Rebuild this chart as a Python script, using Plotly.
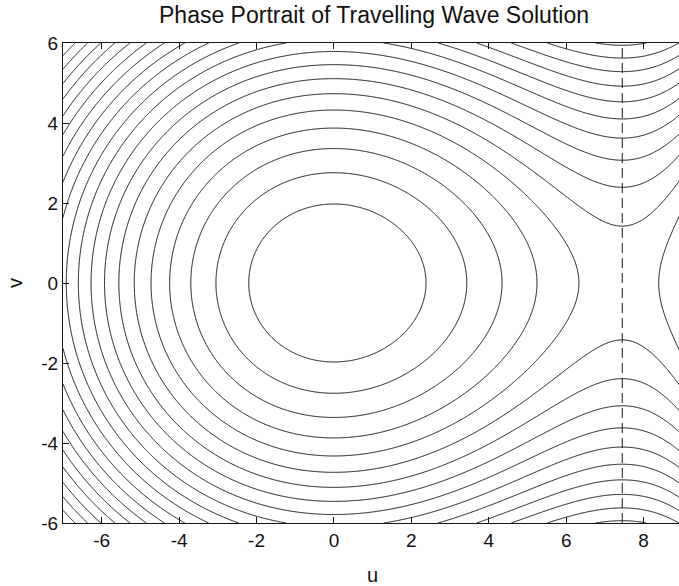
import numpy as np
import plotly.graph_objects as go

# Travelling-wave reduction u'' = -V'(u), v = u'. Orbits are level sets of
# the first integral H(u, v) = v^2 / 2 + V(u), with
# V(u) = u^2 * (STIFFNESS - GAIN * exp(u / SCALE)).
STIFFNESS = 0.445
GAIN = 0.0641
SCALE = 5.3

U_RANGE = [-7.0, 8.915]
V_RANGE = [-6.0, 6.0]

# energy levels of the plotted orbits
LEVELS = [1.95, 3.80, 5.65, 7.50, 9.35, 11.20, 13.05, 14.90, 16.75, 18.60,
          20.45, 22.30, 24.15, 26.00, 27.85, 29.70, 31.55, 33.40, 35.25, 37.10]

X_TICKS = [-6, -4, -2, 0, 2, 4, 6, 8]
X_TICK_TEXT = ["-6", "-4", "-2", "0", "2", "4", "6", "8"]
Y_TICKS = [-6, -4, -2, 0, 2, 4, 6]
Y_TICK_TEXT = ["-6", "-4", "-2", "0", "2", "4", "6"]

TITLE = "Phase Portrait of Travelling Wave Solution"
INK = "#151515"
FONT = "Liberation Sans, Arial, Helvetica, sans-serif"


def potential(u):
    return u ** 2 * (STIFFNESS - GAIN * np.exp(u / SCALE))


u = np.linspace(-7.0, 9.0, 801)
v = np.linspace(V_RANGE[0], V_RANGE[1], 601)
U, V = np.meshgrid(u, v)
H = 0.5 * V ** 2 + potential(U)

# saddle point of the system: local maximum of V on the positive axis
u_pos = np.linspace(1.0, 9.0, 8001)
u_saddle = u_pos[np.argmax(potential(u_pos))]

fig = go.Figure()
fig.add_trace(go.Contour(
    x=u, y=v, z=H,
    autocontour=False,
    contours=dict(coloring="none", start=LEVELS[0], end=LEVELS[-1],
                  size=LEVELS[1] - LEVELS[0], showlabels=False),
    line=dict(color=INK, width=1, smoothing=1),
    showscale=False, hoverinfo="skip",
))
fig.add_trace(go.Scatter(
    x=[u_saddle, u_saddle], y=V_RANGE, mode="lines",
    line=dict(color=INK, width=1, dash="10px,5px"),
    hoverinfo="skip", showlegend=False,
))

axis_common = dict(
    ticks="inside", ticklen=6, tickwidth=1, tickcolor=INK,
    showline=True, linecolor=INK, linewidth=1,
    showgrid=False, zeroline=False,
    tickfont=dict(family=FONT, size=19, color="#111"),
)
fig.update_xaxes(range=U_RANGE, tickvals=X_TICKS, ticktext=X_TICK_TEXT,
                 mirror="ticks", **axis_common)
fig.update_yaxes(range=V_RANGE, tickvals=Y_TICKS, ticktext=Y_TICK_TEXT,
                 mirror=False, **axis_common)

fig.update_layout(
    width=679, height=586,
    margin=dict(l=63, r=0, t=43, b=63),
    paper_bgcolor="white", plot_bgcolor="white",
    showlegend=False,
    title=dict(text=TITLE, x=374 / 679, xanchor="center",
               y=1 - 15 / 586, yanchor="middle",
               font=dict(family=FONT, size=23, color="#111")),
    annotations=[
        dict(text="u", xref="paper", yref="paper", x=0.503, y=-0.109,
             xanchor="center", yanchor="middle", showarrow=False,
             font=dict(family=FONT, size=20, color="#111")),
        dict(text="v", xref="paper", yref="paper", x=-0.078, y=0.5,
             xanchor="center", yanchor="middle", showarrow=False,
             textangle=-90, font=dict(family=FONT, size=20, color="#111")),
    ],
)

fig.write_html("out.html")
